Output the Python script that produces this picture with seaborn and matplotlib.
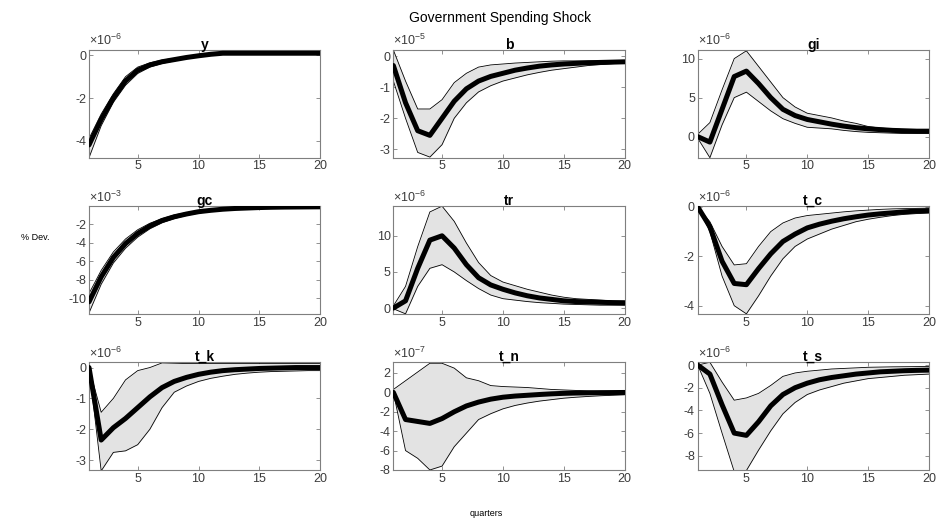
import numpy as np
import pandas as pd
import matplotlib
matplotlib.use("Agg")
import matplotlib.pyplot as plt
from matplotlib.ticker import FuncFormatter
import seaborn as sns

# Horizon (quarters after the shock)
quarters = list(range(1, 21))

# Variable names shown as panel titles
names = ["y", "b", "gi", "gc", "tr", "t_c", "t_k", "t_n", "t_s"]

# Power-of-ten scale of each panel
exponents = [-6, -5, -6, -3, -6, -6, -6, -7, -6]

# Median responses (in units of the panel scale)
median = {
    "y":   [-4.2, -3.0, -2.0, -1.2, -0.7, -0.45, -0.3, -0.2, -0.1, -0.02,
            0.05, 0.1, 0.1, 0.1, 0.1, 0.1, 0.1, 0.1, 0.1, 0.1],
    "b":   [-0.3, -1.5, -2.4, -2.55, -2.0, -1.45, -1.05, -0.8, -0.65, -0.55,
            -0.45, -0.38, -0.32, -0.28, -0.25, -0.23, -0.21, -0.2, -0.19, -0.18],
    "gi":  [0.0, -0.7, 3.5, 7.7, 8.4, 6.8, 5.0, 3.5, 2.7, 2.2,
            1.9, 1.6, 1.35, 1.15, 1.0, 0.9, 0.8, 0.75, 0.7, 0.7],
    "gc":  [-10.4, -7.7, -5.6, -4.1, -3.0, -2.2, -1.6, -1.2, -0.9, -0.65,
            -0.5, -0.38, -0.3, -0.25, -0.2, -0.17, -0.15, -0.14, -0.13, -0.12],
    "tr":  [0.0, 1.0, 5.5, 9.4, 10.0, 8.3, 6.0, 4.2, 3.2, 2.6,
            2.1, 1.7, 1.4, 1.2, 1.0, 0.9, 0.85, 0.8, 0.75, 0.7],
    "t_c": [0.0, -0.8, -2.2, -3.1, -3.15, -2.5, -1.9, -1.4, -1.1, -0.85,
            -0.7, -0.58, -0.48, -0.4, -0.33, -0.28, -0.24, -0.2, -0.17, -0.15],
    "t_k": [0.0, -2.35, -1.95, -1.65, -1.3, -0.95, -0.65, -0.45, -0.32, -0.22,
            -0.15, -0.1, -0.07, -0.05, -0.03, -0.02, -0.01, 0.0, 0.0, 0.0],
    "t_n": [0.0, -2.8, -3.0, -3.2, -2.7, -2.0, -1.4, -1.0, -0.7, -0.5,
            -0.38, -0.3, -0.22, -0.15, -0.1, -0.07, -0.05, -0.03, -0.02, -0.01],
    "t_s": [0.0, -0.8, -3.5, -6.0, -6.2, -5.0, -3.6, -2.6, -2.0, -1.6,
            -1.3, -1.1, -0.95, -0.8, -0.7, -0.6, -0.55, -0.5, -0.47, -0.45],
}

# Upper edge of the confidence band
upper = {
    "y":   [-3.9, -2.75, -1.8, -1.0, -0.55, -0.35, -0.22, -0.14, -0.06, 0.0,
            0.08, 0.12, 0.13, 0.13, 0.13, 0.13, 0.13, 0.13, 0.13, 0.13],
    "b":   [0.2, -0.8, -1.7, -1.7, -1.4, -0.85, -0.55, -0.35, -0.28, -0.25,
            -0.22, -0.2, -0.18, -0.16, -0.15, -0.15, -0.15, -0.15, -0.15, -0.15],
    "gi":  [0.3, 1.8, 6.0, 10.0, 11.0, 9.0, 7.0, 5.0, 3.8, 3.0,
            2.7, 2.4, 2.0, 1.7, 1.3, 1.1, 1.0, 0.9, 0.85, 0.8],
    "gc":  [-9.5, -7.0, -5.0, -3.6, -2.6, -1.9, -1.4, -1.0, -0.75, -0.55,
            -0.42, -0.32, -0.26, -0.21, -0.17, -0.15, -0.13, -0.12, -0.11, -0.1],
    "tr":  [0.3, 3.0, 8.5, 13.3, 14.1, 12.0, 9.0, 6.3, 4.5, 3.6,
            3.1, 2.6, 2.2, 1.8, 1.5, 1.3, 1.2, 1.1, 1.0, 1.0],
    "t_c": [0.0, -0.6, -1.6, -2.35, -2.3, -1.6, -1.0, -0.65, -0.45, -0.35,
            -0.3, -0.25, -0.2, -0.16, -0.13, -0.1, -0.08, -0.07, -0.06, -0.05],
    "t_k": [0.0, -1.45, -1.0, -0.4, -0.1, 0.0, 0.15, 0.14, 0.13, 0.13,
            0.13, 0.13, 0.13, 0.13, 0.13, 0.13, 0.13, 0.13, 0.13, 0.13],
    "t_n": [0.3, 1.2, 2.1, 3.0, 3.0, 2.5, 1.5, 1.2, 0.7, 0.6,
            0.55, 0.5, 0.4, 0.3, 0.25, 0.2, 0.15, 0.12, 0.1, 0.1],
    "t_s": [0.0, 0.24, -1.5, -3.1, -2.9, -2.5, -1.8, -1.0, -0.7, -0.55,
            -0.45, -0.35, -0.3, -0.25, -0.2, -0.18, -0.16, -0.15, -0.14, -0.13],
}

# Lower edge of the confidence band
lower = {
    "y":   [-4.8, -3.3, -2.2, -1.4, -0.85, -0.55, -0.38, -0.26, -0.15, -0.06,
            0.0, 0.05, 0.06, 0.07, 0.07, 0.07, 0.07, 0.07, 0.07, 0.07],
    "b":   [-0.8, -2.0, -3.1, -3.25, -2.85, -2.0, -1.5, -1.15, -0.95, -0.8,
            -0.7, -0.6, -0.52, -0.45, -0.4, -0.35, -0.3, -0.27, -0.24, -0.22],
    "gi":  [-0.2, -2.7, 1.5, 5.0, 5.7, 4.5, 3.3, 2.3, 1.7, 1.2,
            1.1, 1.0, 0.8, 0.65, 0.55, 0.5, 0.45, 0.4, 0.4, 0.4],
    "gc":  [-11.6, -8.5, -6.2, -4.6, -3.4, -2.5, -1.85, -1.4, -1.05, -0.8,
            -0.6, -0.46, -0.36, -0.3, -0.25, -0.21, -0.19, -0.17, -0.16, -0.15],
    "tr":  [-0.1, -0.8, 3.0, 5.5, 6.0, 5.0, 3.8, 2.7, 1.8, 1.3,
            1.1, 0.9, 0.75, 0.65, 0.55, 0.5, 0.45, 0.4, 0.4, 0.4],
    "t_c": [0.0, -1.0, -2.8, -4.0, -4.33, -3.6, -2.8, -2.1, -1.6, -1.3,
            -1.1, -0.9, -0.75, -0.6, -0.5, -0.42, -0.35, -0.3, -0.27, -0.25],
    "t_k": [0.0, -3.35, -2.75, -2.7, -2.5, -2.0, -1.3, -0.8, -0.6, -0.45,
            -0.35, -0.28, -0.22, -0.18, -0.15, -0.13, -0.12, -0.11, -0.1, -0.1],
    "t_n": [0.0, -6.0, -6.8, -8.0, -7.6, -5.6, -4.2, -2.8, -2.2, -1.7,
            -1.35, -1.1, -0.9, -0.75, -0.6, -0.5, -0.42, -0.35, -0.3, -0.25],
    "t_s": [0.0, -2.5, -6.0, -9.4, -9.3, -7.5, -5.8, -4.3, -3.3, -2.6,
            -2.2, -1.9, -1.6, -1.4, -1.2, -1.1, -1.0, -0.9, -0.85, -0.8],
}

# Axis limits and ticks (in units of the panel scale)
ylims = {
    "y": (-4.8, 0.25), "b": (-3.27, 0.2), "gi": (-2.7, 11.1),
    "gc": (-11.7, -0.05), "tr": (-0.8, 14.1), "t_c": (-4.33, 0.03),
    "t_k": (-3.32, 0.17), "t_n": (-8.0, 3.1), "t_s": (-9.25, 0.24),
}
yticks = {
    "y": [-4, -2, 0], "b": [-3, -2, -1, 0], "gi": [0, 5, 10],
    "gc": [-10, -8, -6, -4, -2], "tr": [0, 5, 10], "t_c": [-4, -2, 0],
    "t_k": [-3, -2, -1, 0], "t_n": [-8, -6, -4, -2, 0, 2], "t_s": [-8, -6, -4, -2, 0],
}
xticks = [5, 10, 15, 20]

sns.set_theme(style="white")
plt.rcParams["font.family"] = ["Liberation Sans", "DejaVu Sans"]
plt.rcParams["axes.unicode_minus"] = False
plt.rcParams["mathtext.fontset"] = "custom"
plt.rcParams["mathtext.rm"] = "Liberation Sans"
plt.rcParams["mathtext.it"] = "Liberation Sans:italic"
plt.rcParams["mathtext.bf"] = "Liberation Sans:bold"

frame_gray = "#7f7f7f"
label_gray = "#3c3c3c"


def scaled_formatter(scale):
    return FuncFormatter(lambda v, pos: f"{round(v / scale, 6):g}")


fig, axes = plt.subplots(3, 3, figsize=(9.36, 5.2), dpi=100)
fig.subplots_adjust(left=0.0951, right=0.9925, top=0.9038, bottom=0.0962,
                    wspace=0.316, hspace=0.45)

for ax, name, ex in zip(axes.flat, names, exponents):
    scale = 10.0 ** ex
    df = pd.DataFrame({
        "quarter": quarters,
        "median": np.array(median[name]) * scale,
        "upper": np.array(upper[name]) * scale,
        "lower": np.array(lower[name]) * scale,
    })
    ax.fill_between(df["quarter"], df["lower"], df["upper"],
                    color="#e3e3e3", linewidth=0, zorder=1)
    sns.lineplot(data=df, x="quarter", y="upper", ax=ax, color="black",
                 linewidth=0.6, zorder=2)
    sns.lineplot(data=df, x="quarter", y="lower", ax=ax, color="black",
                 linewidth=0.6, zorder=2)
    sns.lineplot(data=df, x="quarter", y="median", ax=ax, color="black",
                 linewidth=3.6, zorder=3)

    ax.set_xlim(1, 20)
    lo, hi = ylims[name]
    ax.set_ylim(lo * scale, hi * scale)
    ax.set_xticks(xticks)
    ax.set_yticks(np.array(yticks[name]) * scale)
    ax.yaxis.set_major_formatter(scaled_formatter(scale))

    # Exponent label above the top-left corner
    ax.text(0.0, 1.015, r"$\times$10$^{" + str(ex) + "}$",
            transform=ax.transAxes, ha="left", va="bottom",
            fontsize=9, color=label_gray)

    ax.set_xlabel("")
    ax.set_ylabel("")
    ax.set_title(name, fontsize=10, fontweight="bold", color="black", pad=1)

    ax.tick_params(direction="in", length=3, width=0.6, colors=frame_gray,
                   labelcolor=label_gray, labelsize=9, top=True, right=True,
                   bottom=True, left=True, pad=2)
    for sp in ax.spines.values():
        sp.set_visible(True)
        sp.set_color(frame_gray)
        sp.set_linewidth(0.8)

fig.text(0.534, 0.965, "Government Spending Shock", ha="center", va="center",
         fontsize=10, color="black")
fig.text(0.038, 0.544, "% Dev.", ha="center", va="center", fontsize=6.5,
         color="black")
fig.text(0.519, 0.012, "quarters", ha="center", va="center", fontsize=6.5,
         color="black")

fig.savefig("out.png", dpi=100)
